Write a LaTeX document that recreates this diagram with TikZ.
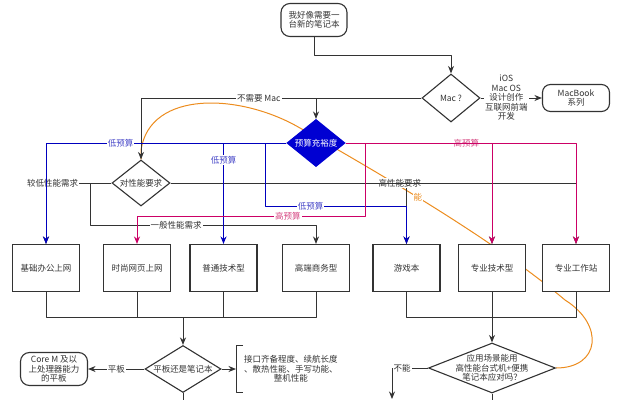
\documentclass[tikz,border=0pt]{standalone}
\usepackage{fontspec}
\setmainfont{Noto Sans CJK SC}
\usetikzlibrary{shapes.geometric,arrows.meta,backgrounds}
\definecolor{ink}{RGB}{51,51,51}
\definecolor{lowb}{RGB}{0,0,190}
\definecolor{lowt}{RGB}{70,70,200}
\definecolor{highp}{RGB}{204,0,102}
\definecolor{hight}{RGB}{214,70,130}
\definecolor{budg}{RGB}{0,0,210}
\definecolor{orng}{RGB}{236,140,30}

\begin{document}
\begin{tikzpicture}[x=1pt, y=-1pt, font=\fontsize{8.5}{9.5}\selectfont,
                    c/.style={line width=1pt, draw=ink, line join=round},
                    arr/.style={c, -{Stealth[length=7.5pt, width=6pt]}},
                    box/.style={draw=ink, line width=1.1pt, fill=white, text=ink,
                                minimum width=67pt, minimum height=47pt, inner sep=1pt},
                    term/.style={box, rounded corners=9pt, align=center},
                    dia/.style={diamond, draw=ink, line width=1.1pt, fill=white, text=ink,
                                inner sep=0pt, align=center},
                    lbl/.style={fill=white, inner sep=1pt, text=ink},
                    lol/.style={lbl, text=lowt},
                    hil/.style={lbl, text=hight}]
  \useasboundingbox (0,0) rectangle (625,400);
  \node[term, minimum width=66pt, minimum height=33pt] (start) at (314,20) {我好像需要一\\台新的笔记本};
  \node[dia, minimum width=58pt, minimum height=48pt, aspect=1.2] (mac) at (451,98) {Mac ?};
  \node[term, minimum width=67pt, minimum height=27pt, rounded corners=8pt] (macbook) at (576,98) {MacBook\\系列};
  \node[dia, fill=budg, draw=budg, text=white, minimum width=58pt, minimum height=47pt, aspect=1.3] (budget) at (316,143) {预算充裕度};
  \node[dia, minimum width=58pt, minimum height=46pt, aspect=1.3] (perf) at (141,183) {对性能要求};
  \foreach \n/\x/\t in {basic/46/基础办公上网, fashion/137/时尚网页上网, common/223.5/普通技术型,
                        business/316/高端商务型, game/406.5/游戏本, protech/492/专业技术型,
                        station/576/专业工作站}
    \node[box] (\n) at (\x,268) {\t};
  \node[dia, minimum width=76pt, minimum height=47pt, aspect=1.6] (tablet) at (183,369) {平板还是笔记本};
  \node[term, minimum width=67pt, minimum height=33pt] (corem) at (54,369) {Core M 及以\\上处理器能力\\的平板};
  \node[anchor=west, align=center, text=ink, minimum height=46pt, inner xsep=8pt] (spec) at (236,369)
    {接口齐备程度、续航长度\\、散热性能、手写功能、\\整机性能};
  \node[dia, minimum width=127pt, minimum height=50pt] (scene) at (492,368) {};
  \node[align=center, inner sep=0pt, text=ink] (scenetxt) at (scene.center) {应用场景能用\\高性能台式机+便携\\笔记本应对吗？};
  \coordinate (joinL) at (183,317);
  \coordinate (joinR) at (492,317);
  \coordinate (noOut) at (392,399);
  \coordinate (tabOut) at (183,400);
  \coordinate (sceneOut) at (492,400);
  % annotation bracket
  \draw[c] ([xshift=7pt]spec.north west) -- (spec.north west) -- (spec.south west) -- ([xshift=7pt]spec.south west);
  \begin{scope}[on background layer]
    % loop back
    \draw[c, draw=orng] (scene.east) .. controls (600,368) and (605,325) .. (565,300)
      .. controls (500,245) and (400,185) .. (300,128) node[lbl, text=orng, pos=0.6] (can) {能}
      .. controls (240,93) and (150,90) .. (141,150) -- (perf.north);
    \draw[arr] (start.south) -- ++(0,18) -| (mac.north);
    \draw[arr] (mac.west) -| (perf.north) node[lbl, pos=0.29] (nomac) {不需要 Mac};
    \draw[arr] (mac.west) -| (budget.north);
    \draw[arr] (mac.east) -- (macbook.west) node[lbl, pos=0.42, align=center] (macuse) {iOS\\Mac OS\\设计创作\\互联网前端\\开发};
    % performance
    \draw[arr] (perf.west) -| (basic.north) node[lbl, pos=0.45] (lowperf) {较低性能需求};
    \draw[arr] (perf.west) -| ++(-21,42) -| (business.north) node[lbl, pos=0.19] (midperf) {一般性能需求};
    \draw[arr] (perf.east) -| (game.north) node[lbl, pos=0.486] (hiperf) {高性能要求};
    \draw[arr] (perf.east) -| (protech.north);
    \draw[arr] (perf.east) -| (station.north);
    % low budget
    \draw[arr, draw=lowb] (budget.west) -| (basic.north) node[lol, pos=0.345] (low1) {低预算};
    \draw[arr, draw=lowb] (budget.west) -| (common.north) node[lol, pos=0.585] (low2) {低预算};
    \draw[arr, draw=lowb] (budget.west) -| ++(-21,63) -| (game.north) node[lol, pos=0.16] (low3) {低预算};
    % high budget
    \draw[arr, draw=highp] (budget.east) -| (station.north) node[hil, pos=0.262] (high1) {高预算};
    \draw[arr, draw=highp] (budget.east) -| (protech.north);
    \draw[arr, draw=highp] (budget.east) -| ++(20,73) -| (fashion.north) node[hil, pos=0.17] (high2) {高预算};
    % bottom
    \foreach \b in {basic,fashion,common,business} \draw[c] (\b.south) |- (joinL);
    \draw[arr] (joinL) -- (tablet.north);
    \foreach \b in {game,protech,station} \draw[c] (\b.south) |- (joinR);
    \draw[arr] (joinR) -- (scene.north);
    \draw[arr] (tablet.west) -- (corem.east) node[lbl, midway] (tabl) {平板};
    \draw[arr] (tablet.east) -- (spec.west);
    \draw[c] (tablet.south) -- (tabOut);
    \draw[arr] (scene.west) -| (noOut) node[lbl, pos=0.36] (cannot) {不能};
    \draw[c] (scene.south) -- (sceneOut);
  \end{scope}
\end{tikzpicture}
\end{document}
